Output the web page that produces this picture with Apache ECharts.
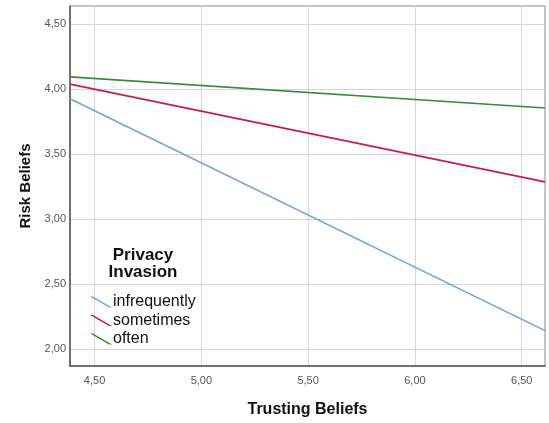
<!DOCTYPE html>
<html>
<head>
<meta charset="utf-8">
<script src="https://cdn.jsdelivr.net/npm/echarts@6/dist/echarts.min.js"></script>
<style>
html,body{margin:0;padding:0;background:#fff;}
#chart{width:549px;height:423px;}
</style>
</head>
<body>
<div id="chart"></div>
<script>
// Fitted lines of Risk Beliefs on Trusting Beliefs, one per privacy-invasion group
const trustRange = [4.385, 6.609];
const groups = ['infrequently', 'sometimes', 'often'];
const infrequentlyRisk = [3.924, 2.14];
const sometimesRisk = [4.036, 3.284];
const oftenRisk = [4.092, 3.853];
const groupColors = ['#72a4d6', '#c11f50', '#3b8a3b'];

const xTicks = [4.5, 5.0, 5.5, 6.0, 6.5];
const yTicks = [2.0, 2.5, 3.0, 3.5, 4.0, 4.5];

const fmt = v => v.toFixed(2).replace('.', ',');

const riskByGroup = [infrequentlyRisk, sometimesRisk, oftenRisk];
const series = groups.map((name, i) => ({
  name: name,
  type: 'line',
  data: trustRange.map((x, k) => [x, riskByGroup[i][k]]),
  showSymbol: false,
  symbol: 'none',
  lineStyle: { color: groupColors[i], width: 1.6 },
  itemStyle: { color: groupColors[i] },
  silent: true,
  animation: false
}));

const chart = echarts.init(document.getElementById('chart'), null, { renderer: 'canvas' });
chart.setOption({
  animation: false,
  backgroundColor: '#fff',
  grid: {
    left: 70, top: 6, right: 4, bottom: 54,
    show: true, borderColor: '#8a8a8a', borderWidth: 1
  },
  xAxis: {
    type: 'value',
    min: trustRange[0], max: trustRange[1],
    name: 'Trusting Beliefs',
    nameLocation: 'middle',
    nameGap: 36,
    nameTextStyle: { fontFamily: 'Liberation Sans', fontWeight: 'bold', fontSize: 16, color: '#111' },
    axisLine: { show: true, lineStyle: { color: '#555', width: 1.5 } },
    axisTick: { show: false, customValues: xTicks },
    axisLabel: { customValues: xTicks, formatter: fmt, fontFamily: 'Liberation Sans', fontSize: 11, color: '#555', margin: 9 },
    splitLine: { show: true, lineStyle: { color: '#d6d6d6', width: 1 } }
  },
  yAxis: {
    type: 'value',
    min: 1.868, max: 4.637,
    name: 'Risk Beliefs',
    nameLocation: 'middle',
    nameGap: 36,
    nameTextStyle: { fontFamily: 'Liberation Sans', fontWeight: 'bold', fontSize: 15, color: '#111' },
    axisLine: { show: true, lineStyle: { color: '#555', width: 1.5 } },
    axisTick: { show: false, customValues: yTicks },
    axisLabel: { customValues: yTicks, formatter: fmt, fontFamily: 'Liberation Sans', fontSize: 11, color: '#555', margin: 4 },
    splitLine: { show: true, lineStyle: { color: '#d6d6d6', width: 1 } }
  },
  legend: {
    data: groups,
    orient: 'vertical',
    left: 85, top: 289,
    itemWidth: 22, itemHeight: 12,
    itemGap: 2.5,
    icon: 'path://M0,0 L3,0 L22,11 L19,11 Z',
    textStyle: { fontFamily: 'Liberation Sans', fontSize: 16, color: '#111', lineHeight: 16, padding: [0, 0, 0, -4] },
    selectedMode: false
  },
  graphic: [{
    type: 'text',
    x: 143, y: 247,
    style: {
      text: 'Privacy\nInvasion',
      fontFamily: 'Liberation Sans',
      fontWeight: 'bold',
      fontSize: 17,
      lineHeight: 17,
      align: 'center',
      verticalAlign: 'top',
      fill: '#111'
    }
  }],
  series: series
});
</script>
</body>
</html>
